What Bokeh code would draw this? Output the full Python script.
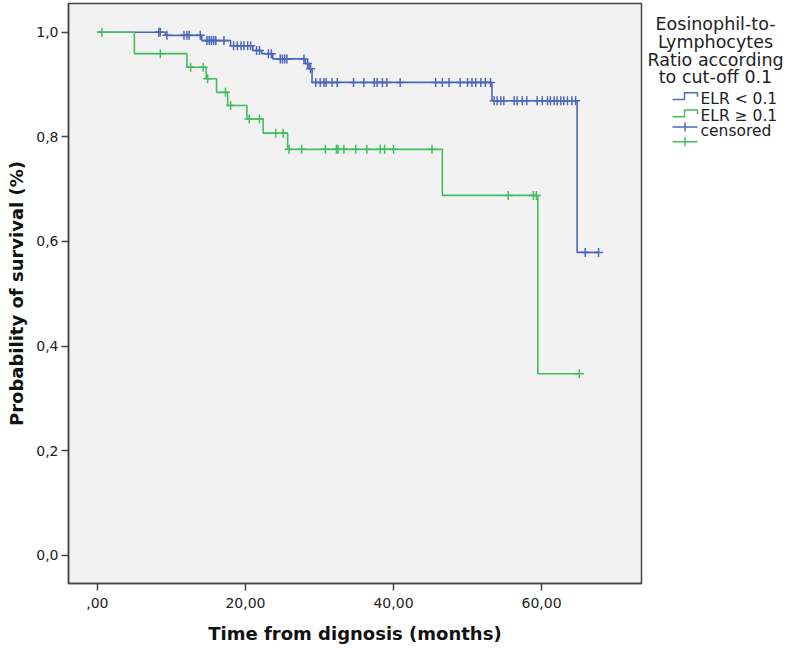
import numpy as np
from bokeh.plotting import figure
from bokeh.models import Range1d, FixedTicker
from bokeh.layouts import row
from bokeh.embed import file_html
from bokeh.resources import INLINE
from bokeh.core.properties import value

# ---------------- data ----------------
# ELR < 0.1 : Kaplan-Meier step times (months) and survival after each step
blue_step_t = [0.0, 9.2, 14.1, 18.0, 21.0, 22.2, 23.7, 28.1, 28.6, 29.0, 53.3, 64.8]
blue_step_s = [1.0, 0.994, 0.984, 0.974, 0.965, 0.959, 0.949, 0.940, 0.930, 0.904, 0.869, 0.579]
blue_end = 67.7
blue_cens = [8.3, 8.5, 9.4, 11.7, 12.1, 12.4, 13.9, 14.8, 15.1, 15.4, 15.7, 16.0, 17.1,
             18.4, 18.9, 19.4, 19.8, 20.3, 20.7, 21.5, 21.9, 23.1, 23.5, 24.7, 25.0, 25.3,
             25.6, 27.9, 28.4, 28.8, 29.5, 30.1, 30.6, 30.9, 31.7, 32.4, 34.6, 36.0, 37.4,
             37.8, 38.5, 39.1, 40.9, 45.7, 46.6, 47.5, 49.0, 50.0, 50.6, 51.1, 51.8, 52.4,
             53.1, 53.6, 54.0, 54.5, 54.9, 56.3, 56.7, 57.4, 58.0, 59.4, 60.1, 60.8, 61.2,
             61.7, 62.1, 62.6, 63.0, 63.5, 64.1, 64.6, 65.9, 67.7]

# ELR >= 0.1
green_step_t = [0.0, 5.0, 12.1, 14.7, 16.1, 17.6, 20.2, 22.4, 25.7, 46.6, 59.5]
green_step_s = [1.0, 0.959, 0.933, 0.911, 0.885, 0.860, 0.834, 0.807, 0.776, 0.688, 0.347]
green_end = 65.1
green_cens = [0.6, 8.5, 12.6, 14.3, 14.9, 17.3, 18.0, 20.5, 21.9, 24.1, 25.1, 25.9, 27.6,
              30.8, 32.3, 32.5, 33.3, 34.9, 36.4, 38.2, 38.8, 40.0, 45.2, 55.5, 58.9, 59.3,
              65.1]

x_ticks = [0, 20, 40, 60]
x_tick_labels = [",00", "20,00", "40,00", "60,00"]
y_ticks = [0.0, 0.2, 0.4, 0.6, 0.8, 1.0]
y_tick_labels = ["0,0", "0,2", "0,4", "0,6", "0,8", "1,0"]

legend_title = ["Eosinophil-to-", "Lymphocytes", "Ratio according", "to cut-off 0.1"]
legend_labels = ["ELR < 0.1", "ELR \u2265 0.1", "censored"]

BLUE = "#4b67bd"
GREEN = "#42bd60"
FONT = "DejaVu Sans"


def surv_at(times, steps_t, steps_s):
    idx = np.searchsorted(np.array(steps_t), np.array(times), side="right") - 1
    return list(np.array(steps_s)[idx])


p = figure(width=643, height=646, output_backend="svg", toolbar_location=None,
           x_range=Range1d(-3.9, 73.5), y_range=Range1d(-0.0541, 1.0549),
           min_border_left=68, min_border_right=2, min_border_top=3, min_border_bottom=63)
p.background_fill_color = "#f2f2f2"
p.border_fill_color = "white"
p.outline_line_color = "#444444"
p.outline_line_width = 1.5
p.grid.visible = False

for st, ss, end, cens, col in [(blue_step_t, blue_step_s, blue_end, blue_cens, BLUE),
                               (green_step_t, green_step_s, green_end, green_cens, GREEN)]:
    p.step(x=st + [end], y=ss + [ss[-1]], mode="after", line_color=col, line_width=1.6)
    p.scatter(x=cens, y=surv_at(cens, st, ss), marker="cross", size=9,
              line_color=col, line_width=1.5)

p.xaxis.ticker = FixedTicker(ticks=x_ticks)
p.xaxis.major_label_overrides = {t: l for t, l in zip(x_ticks, x_tick_labels)}
p.yaxis.ticker = FixedTicker(ticks=y_ticks)
p.yaxis.major_label_overrides = {t: l for t, l in zip(y_ticks, y_tick_labels)}
p.xaxis.axis_label = "Time from dignosis (months)"
p.yaxis.axis_label = "Probability of survival (%)"

for ax in (p.xaxis[0], p.yaxis[0]):
    ax.axis_line_color = "#444444"
    ax.axis_line_width = 1.5
    ax.major_tick_line_color = "#444444"
    ax.major_tick_line_width = 1.5
    ax.major_tick_out = 7
    ax.major_tick_in = 0
    ax.minor_tick_line_color = None
    ax.major_label_text_font = FONT
    ax.major_label_text_font_size = "14px"
    ax.major_label_text_color = "#222222"
    ax.axis_label_text_font = FONT
    ax.axis_label_text_font_size = "18px"
    ax.axis_label_text_font_style = "bold"
    ax.axis_label_text_color = "#111111"
p.yaxis.major_label_standoff = 3
p.yaxis.axis_label_standoff = 6
p.xaxis.major_label_standoff = 7
p.xaxis.axis_label_standoff = 12

# ---------------- legend panel (page pixel coordinates) ----------------
leg = figure(width=143, height=646, output_backend="svg", toolbar_location=None,
             x_range=Range1d(643, 786), y_range=Range1d(646, 0),
             x_axis_location=None, y_axis_location=None, min_border=0)
leg.outline_line_color = None
leg.grid.visible = False
leg.background_fill_color = "white"
leg.border_fill_color = "white"

title_y = [23, 43, 63, 82]
leg.text(x=[715] * len(legend_title), y=title_y, text=legend_title,
         text_align="center", text_baseline="middle", text_font=value(FONT),
         text_font_size="17.5px", text_color="#222222")

item_y = [106, 125, 142]
leg.text(x=[700] * 3, y=item_y, text=legend_labels, text_align="left",
         text_baseline="middle", text_font=value(FONT), text_font_size="15.5px",
         text_color="#222222")
# step icons
for yy, col in [(item_y[0], BLUE), (item_y[1], GREEN)]:
    leg.line(x=[672, 684, 684, 697, 697], y=[yy + 1, yy + 1, yy - 6.5, yy - 6.5, yy - 2],
             line_color=col, line_width=1.5)
# censored icons
for yy, col in [(137.5, BLUE), (154, GREEN)]:
    leg.line(x=[672, 697], y=[yy, yy], line_color=col, line_width=1.5)
    leg.line(x=[684.5, 684.5], y=[yy - 5, yy + 5], line_color=col, line_width=1.5)

layout = row(p, leg, spacing=0)
open("out.html", "w").write(file_html(layout, INLINE))
